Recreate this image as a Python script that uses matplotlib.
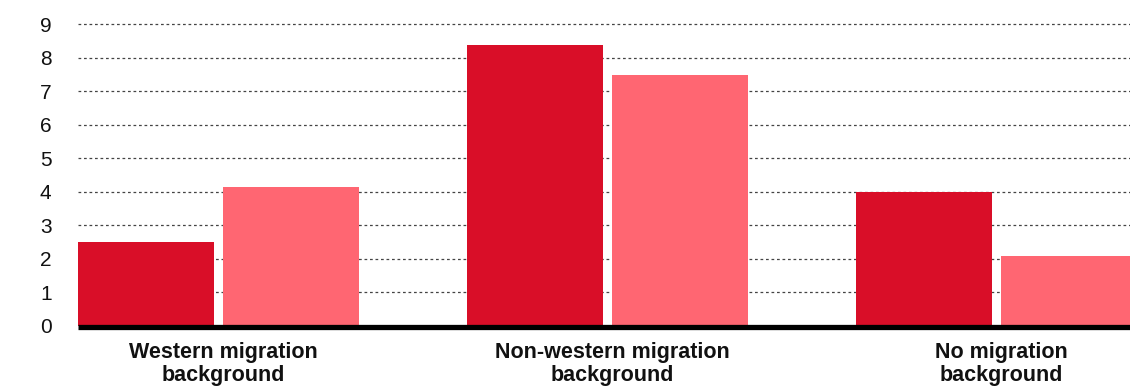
import matplotlib
matplotlib.use("Agg")
import matplotlib.pyplot as plt
import numpy as np

categories = ["Western migration\nbackground", "Non-western migration\nbackground", "No migration\nbackground"]
series_a = [2.5, 8.39, 4.0]
series_b = [4.14, 7.48, 2.08]
yticks = [0, 1, 2, 3, 4, 5, 6, 7, 8, 9]

fig = plt.figure(figsize=(11.3, 3.86), dpi=100)
ax = fig.add_axes([78/1130, 0.1567, 1 - 78/1130, 0.7977])

x = np.arange(len(categories))
w = 0.35
gap = 0.0115
ax.bar(x - gap - w/2, series_a, width=w, color="#D90E28", zorder=3)
ax.bar(x + gap + w/2, series_b, width=w, color="#FF6672", zorder=3)

ax.set_xlim(-0.361, 2.343)
ax.set_ylim(0, 9.2)
ax.set_yticks(yticks)
ax.set_yticklabels([str(t) for t in yticks], fontsize=15, family="Liberation Sans", color="#111")
ax.tick_params(axis="y", length=0, pad=19)
ax.tick_params(axis="x", length=0, pad=12)
ax.set_xticks(x + 0.012)
ax.set_xticklabels(categories, fontsize=15.5, fontweight="bold", family="Liberation Sans",
                   linespacing=1.1, color="#111")

for t in yticks[1:]:
    ax.axhline(t, color="#444", linewidth=0.9, linestyle=(0, (2.2, 2.2)), zorder=1)
ax.axhline(-0.03, color="black", linewidth=3.8, zorder=4, solid_capstyle="butt", clip_on=False)

for s in ax.spines.values():
    s.set_visible(False)

fig.savefig("out.png", dpi=100)
